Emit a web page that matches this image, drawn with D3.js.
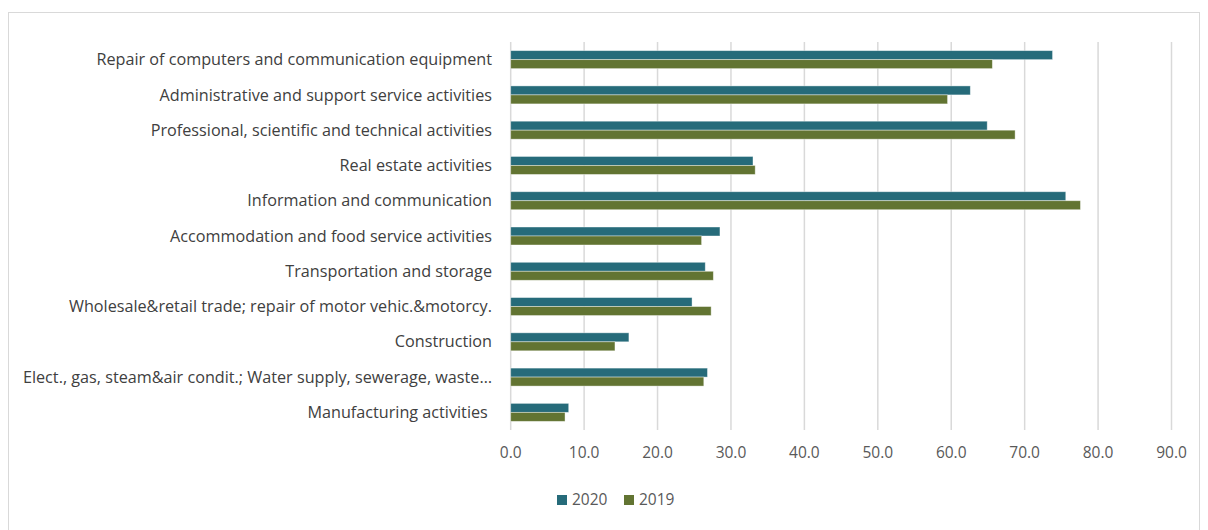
<!doctype html>
<html>
<head>
<meta charset="UTF-8">
<title>Sector chart</title>
<script src="https://d3js.org/d3.v7.min.js"></script>
<style>
  body { margin: 0; background: #fff; }
  * { font-family: "Open Sans", sans-serif; }
</style>
</head>
<body>
<svg id="chart" width="1208" height="530"></svg>
<script>
// categories, top to bottom
var categories = [
  "Repair of computers and communication equipment",
  "Administrative and support service activities",
  "Professional, scientific and technical activities",
  "Real estate activities",
  "Information and communication",
  "Accommodation and food service activities",
  "Transportation and storage",
  "Wholesale&retail trade; repair of motor vehic.&motorcy.",
  "Construction",
  "Elect., gas, steam&air condit.; Water supply, sewerage, waste\u2026",
  "Manufacturing activities "
];
var values2020 = [73.8, 62.6, 64.9, 33.0, 75.6, 28.5, 26.5, 24.7, 16.1, 26.8, 7.9];
var values2019 = [65.6, 59.5, 68.7, 33.3, 77.6, 26.0, 27.6, 27.3, 14.2, 26.3, 7.4];
var seriesNames = ["2020", "2019"];
var tickValues = [0, 10, 20, 30, 40, 50, 60, 70, 80, 90];

var colors = { "2020": "#266b7a", "2019": "#627432" };

var svg = d3.select("#chart");

// outer border
svg.append("rect")
  .attr("x", 8.5).attr("y", 12.5)
  .attr("width", 1191).attr("height", 530)
  .attr("fill", "none").attr("stroke", "#d9d9d9");

var plotLeft = 510.7, plotRight = 1171.5, plotTop = 42, plotBottom = 430;

var x = d3.scaleLinear().domain([0, 90]).range([plotLeft, plotRight]);
var y = d3.scaleBand().domain(categories).range([plotTop, plotBottom]).paddingInner(0.49).paddingOuter(0.245);
var ySub = d3.scaleBand().domain(seriesNames).range([0, y.bandwidth()]);

// gridlines
svg.append("g").selectAll("line")
  .data(tickValues)
  .enter().append("line")
    .attr("x1", d => x(d)).attr("x2", d => x(d))
    .attr("y1", plotTop).attr("y2", plotBottom)
    .attr("stroke", "#d9d9d9")
    .attr("stroke-width", 1.5);

// tick labels
svg.append("g").selectAll("text")
  .data(tickValues)
  .enter().append("text")
    .attr("x", d => x(d))
    .attr("y", 453)
    .attr("dy", "0.35em")
    .attr("text-anchor", "middle")
    .attr("font-size", 15.5)
    .attr("fill", "#595959")
    .text(d => d.toFixed(1));

// bars
var rows = categories.map((c, i) => ({ cat: c, "2020": values2020[i], "2019": values2019[i] }));

var groups = svg.append("g").selectAll("g")
  .data(rows)
  .enter().append("g")
    .attr("transform", d => "translate(0," + y(d.cat) + ")");

groups.selectAll("rect")
  .data(d => seriesNames.map(s => ({ s: s, v: d[s] })))
  .enter().append("rect")
    .attr("x", x(0))
    .attr("y", d => ySub(d.s))
    .attr("width", d => x(d.v) - x(0))
    .attr("height", ySub.bandwidth())
    .attr("fill", d => colors[d.s])
    .attr("stroke", "#ffffff")
    .attr("stroke-opacity", 0.5)
    .attr("stroke-width", 0.8);

// category labels
svg.append("g").selectAll("text")
  .data(categories)
  .enter().append("text")
    .attr("x", 492)
    .attr("y", d => y(d) + y.bandwidth() / 2)
    .attr("dy", "0.35em")
    .attr("text-anchor", "end")
    .attr("font-size", 16.2)
    .attr("fill", "#404040")
    .style("white-space", "pre")
    .text(d => d);

// legend
var legend = svg.append("g").attr("transform", "translate(557,500)");
var legendX = [0, 67];
seriesNames.forEach(function(s, i) {
  legend.append("rect")
    .attr("x", legendX[i]).attr("y", -5)
    .attr("width", 10).attr("height", 10)
    .attr("fill", colors[s]);
  legend.append("text")
    .attr("x", legendX[i] + 15).attr("y", 0)
    .attr("dy", "0.35em")
    .attr("font-size", 15.5)
    .attr("fill", "#595959")
    .text(s);
});
</script>
</body>
</html>
